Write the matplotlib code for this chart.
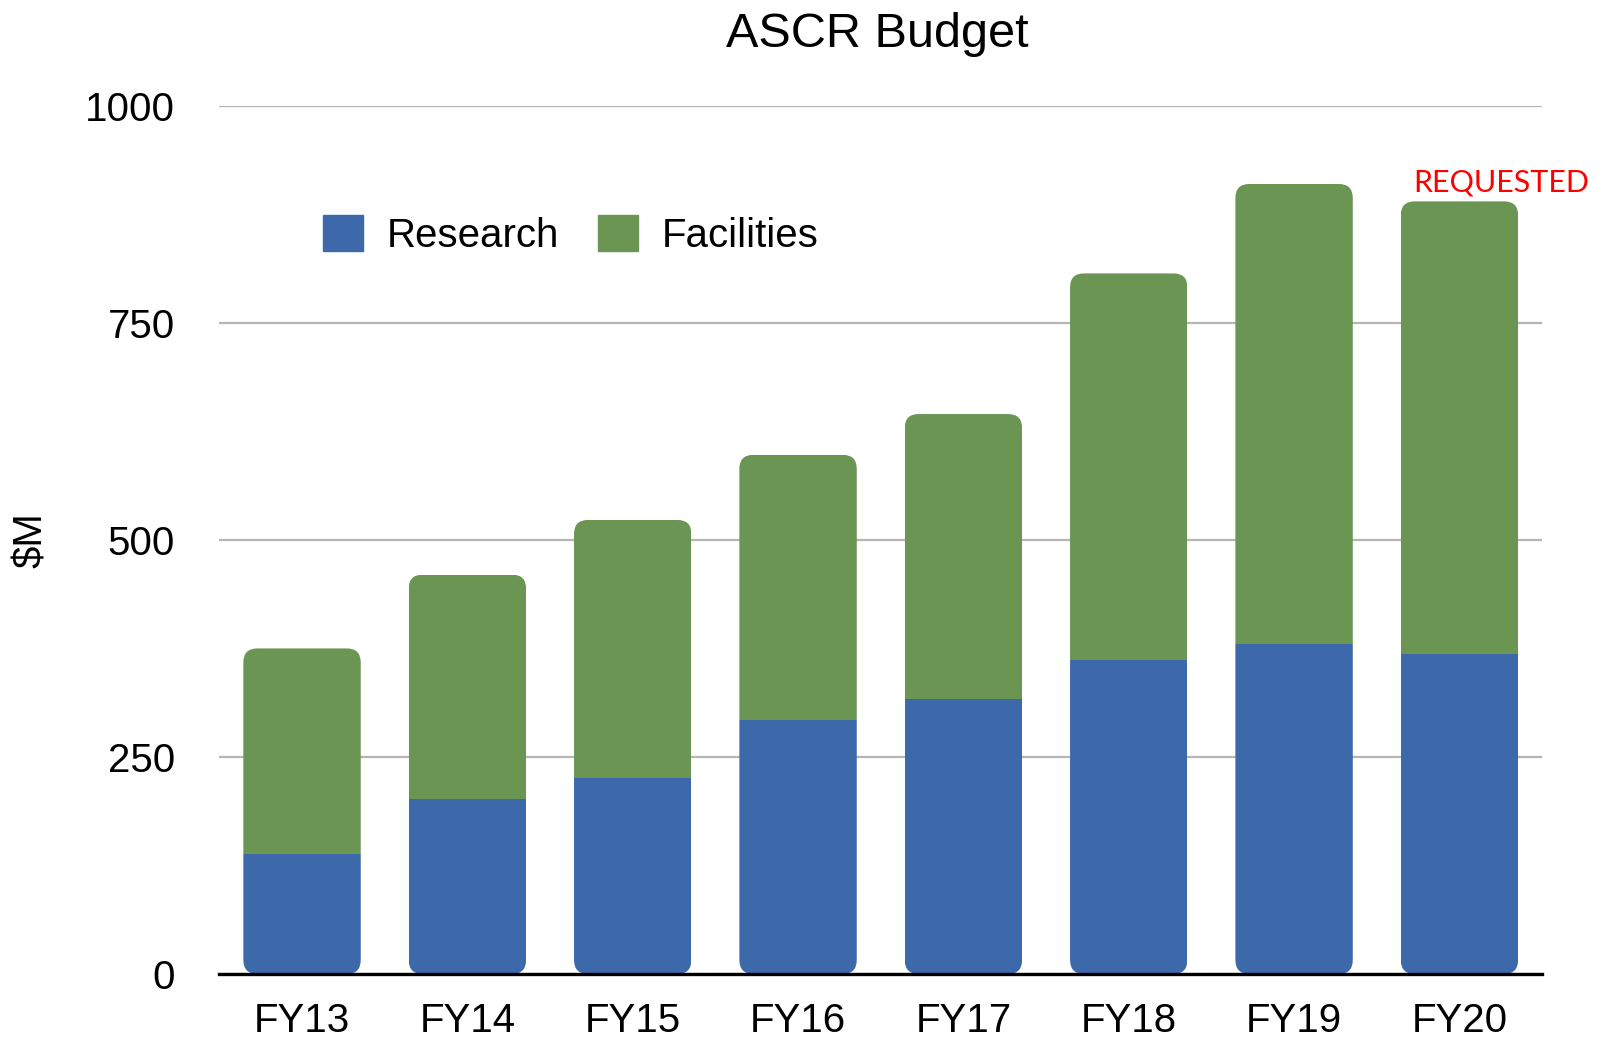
#!/usr/bin/env python3

import numpy as np
from matplotlib import pyplot as plt
from matplotlib.patches import FancyBboxPatch, Patch

# ASCR budget, $M
years = ['FY13', 'FY14', 'FY15', 'FY16', 'FY17', 'FY18', 'FY19', 'FY20']
research = np.array([138, 201, 226, 292, 317, 362, 380, 369])
facilities = np.array([237, 259, 297, 306, 328, 445, 530, 521])
yticks = [0, 250, 500, 750, 1000]

blue = '#3D69AB'
green = '#6A9553'

plt.rcParams['font.family'] = ['Liberation Sans', 'DejaVu Sans']

fig = plt.figure(figsize=(16.19, 10.38), dpi=100)
ax = fig.add_axes([0.1355, 0.0617, 0.817, 0.8363])

x = np.arange(len(years))
width = 0.71
ax.set_xlim(-0.5, len(years) - 0.5)
ax.set_ylim(0, 1000)

res_bars = ax.bar(x, research, width, color=blue, zorder=3)
fac_bars = ax.bar(x, facilities, width, bottom=research, color=green, zorder=3)

# rounded corners: clip each stacked column to a rounded box
px_x = ax.transData.transform((1, 0))[0] - ax.transData.transform((0, 0))[0]
px_y = ax.transData.transform((0, 1))[1] - ax.transData.transform((0, 0))[1]
radius_px = 14
r = radius_px / px_x
aspect = px_x / px_y
for i in range(len(years)):
	box = FancyBboxPatch((x[i] - width / 2, 0), width, research[i] + facilities[i],
						 boxstyle=f'round,pad=0,rounding_size={r}',
						 mutation_aspect=aspect,
						 facecolor='none', edgecolor='none',
						 transform=ax.transData)
	ax.add_patch(box)
	res_bars[i].set_clip_path(box)
	fac_bars[i].set_clip_path(box)

ax.set_yticks(yticks)
ax.set_yticklabels([str(t) for t in yticks])
ax.set_xticks(x)
ax.set_xticklabels(years)
ax.grid(axis='y', color='#B5B5B5', linewidth=1.6, zorder=0)
ax.set_axisbelow(True)
ax.tick_params(axis='both', length=0, labelsize=29)
ax.tick_params(axis='y', pad=32)
ax.tick_params(axis='x', pad=20)

for side in ['left', 'right', 'top']:
	ax.spines[side].set_visible(False)
ax.spines['bottom'].set_color('black')
ax.spines['bottom'].set_linewidth(2.4)
ax.spines['bottom'].set_zorder(4)

ax.set_ylabel('$M', fontsize=29)
ax.yaxis.set_label_coords(-0.128, 0.5)

fig.text(0.542, 0.967, 'ASCR Budget', ha='center', va='center', fontsize=35)

handles = [Patch(color=blue, label='Research'),
		   Patch(color=green, label='Facilities')]
ax.legend(handles=handles, loc='center left',
		  bbox_to_anchor=(0.078, 0.851), ncol=2, frameon=False,
		  fontsize=29, handlelength=1.0, handleheight=1.0,
		  handletextpad=0.6, columnspacing=0.95,
		  borderpad=0, borderaxespad=0)

ax.text(0.969, 0.912, 'REQUESTED', transform=ax.transAxes,
		ha='center', va='center', color='red', fontsize=22,
		family=['Lato', 'DejaVu Sans'])

plt.savefig('out.png', dpi=100)
plt.close()
